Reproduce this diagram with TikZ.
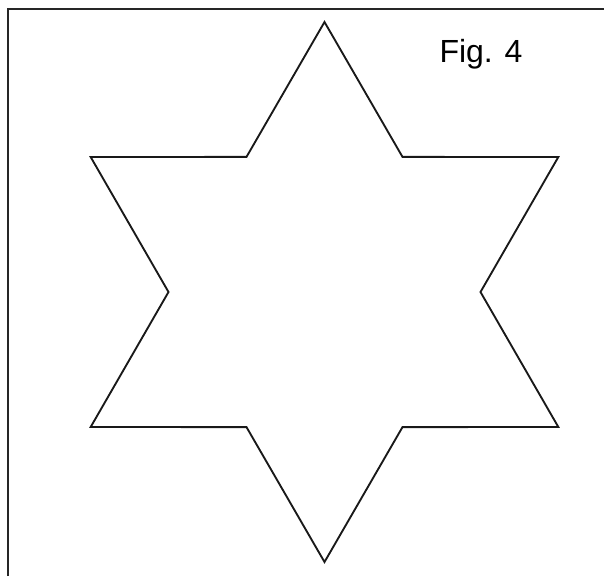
\documentclass[tikz,border=0pt]{standalone}
\usepackage{fontspec}
\setmainfont{Liberation Sans}
\usepackage{tikz}
\usetikzlibrary{calc}

\begin{document}
\begin{tikzpicture}[
  x=0.75pt, y=-0.75pt,
  frameline/.style={line width=1.1pt, black!85},
  starline/.style={line width=1.4pt, black!90, line join=miter},
  caption/.style={font=\fontsize{24}{28}\selectfont, inner sep=0pt}
]
  \useasboundingbox (0,0) rectangle (604,576);

  % Frame: only the top and left edges fall inside the picture
  \draw[frameline] (8,576) -- (8,9) -- (604,9);

  % Six-pointed star around the centre
  \coordinate (c) at (324.5,292);
  \draw[starline] ($(c)+(90:270)$)
    \foreach \a in {90,30,-30,-90,-150,-210} {
      -- ($(c)+(\a-30:156)$) -- ($(c)+(\a-60:270)$)
    } -- cycle;

  % Label
  \node[caption] (fig) at (481,54) {Fig. 4};
\end{tikzpicture}
\end{document}
